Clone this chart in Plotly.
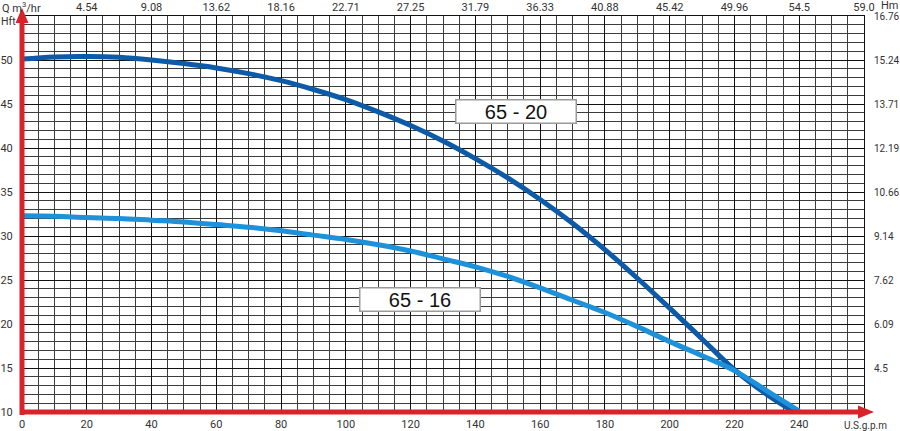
import plotly.graph_objects as go

# ---- data ----
gpm_ticks = [0, 20, 40, 60, 80, 100, 120, 140, 160, 180, 200, 220, 240]
ft_ticks = [10, 15, 20, 25, 30, 35, 40, 45, 50]
m3hr_tick_pos = [20, 40, 60, 80, 100, 120, 140, 160, 180, 200, 220, 240, 260]
m3hr_labels = ["4.54", "9.08", "13.62", "18.16", "22.71", "27.25", "31.79",
               "36.33", "40.88", "45.42", "49.96", "54.5", "59.0"]
hm_tick_pos = [55, 50, 45, 40, 35, 30, 25, 20, 15]
hm_labels = ["16.76", "15.24", "13.71", "12.19", "10.66", "9.14", "7.62", "6.09", "4.5"]

flow_6520 = [0, 10, 20, 30, 40, 50, 60, 70, 80, 90, 100, 110, 120, 130, 140,
             150, 160, 170, 180, 190, 200, 210, 220, 230, 238]
head_6520 = [50.1, 50.35, 50.4, 50.3, 50.0, 49.6, 49.1, 48.45, 47.65, 46.65,
             45.5, 44.1, 42.55, 40.8, 38.8, 36.6, 34.15, 31.45, 28.45, 25.2,
             21.8, 18.3, 14.8, 12.0, 10.1]

flow_6516 = [0, 10, 20, 30, 40, 50, 60, 70, 80, 90, 100, 110, 120, 130, 140,
             150, 160, 170, 180, 190, 200, 210, 220, 230, 240]
head_6516 = [32.3, 32.25, 32.1, 32.0, 31.8, 31.6, 31.3, 31.0, 30.6, 30.1,
             29.6, 29.0, 28.3, 27.4, 26.5, 25.4, 24.1, 22.7, 21.3, 19.7,
             18.0, 16.4, 14.7, 12.4, 10.1]

series_labels = ["65 - 20", "65 - 16"]
label_pos = [(152.5, 44.1), (122.8, 22.8)]

# ---- figure ----
W, H = 900, 431
ML, MR, MT, MB = 22, 36, 16, 19
PW, PH = W - ML - MR, H - MT - MB

DARK = "#0d5aa8"
LIGHT = "#1d91da"
RED = "#d9232a"
TXT = "#333333"
FONT = "Roboto, Arial, sans-serif"
LFONT = "Liberation Sans, Arial, sans-serif"
GRID_MAJ = "#111111"
GRID_MIN = "#3c3c3c"

fig = go.Figure()
fig.add_trace(go.Scatter(x=flow_6520, y=head_6520, mode="lines",
                         line=dict(color=DARK, width=5, shape="spline"),
                         hoverinfo="skip", showlegend=False))
fig.add_trace(go.Scatter(x=flow_6516, y=head_6516, mode="lines",
                         line=dict(color=LIGHT, width=5, shape="spline"),
                         hoverinfo="skip", showlegend=False))
# invisible trace to bind secondary axes
fig.add_trace(go.Scatter(x=[None], y=[None], xaxis="x2", yaxis="y2",
                         mode="markers", showlegend=False, hoverinfo="skip"))

tickfont = dict(family=FONT, size=11, color=TXT)
rtickfont = dict(family=FONT, size=10, color=TXT)

fig.update_layout(
    width=W, height=H,
    margin=dict(l=ML, r=MR, t=MT, b=MB, pad=0),
    paper_bgcolor="white", plot_bgcolor="white",
    font=dict(family=FONT, color=TXT),
    showlegend=False,
    xaxis=dict(range=[0, 260], tickmode="array", tickvals=gpm_ticks,
               ticktext=[str(v) for v in gpm_ticks],
               showgrid=True, gridcolor=GRID_MAJ, gridwidth=1,
               minor=dict(tickmode="linear", tick0=0, dtick=5, showgrid=True,
                          gridcolor=GRID_MIN, gridwidth=1, ticks=""),
               zeroline=False, showline=True, mirror=True, linecolor=GRID_MAJ,
               linewidth=1, ticks="", tickfont=tickfont, ticklabelstandoff=2,
               automargin=False, fixedrange=True),
    yaxis=dict(range=[10, 55], tickmode="array", tickvals=ft_ticks,
               ticktext=[str(v) for v in ft_ticks],
               showgrid=True, gridcolor=GRID_MAJ, gridwidth=1,
               minor=dict(tickmode="linear", tick0=10, dtick=1, showgrid=True,
                          gridcolor=GRID_MIN, gridwidth=1, ticks=""),
               zeroline=False, showline=True, mirror=True, linecolor=GRID_MAJ,
               linewidth=1, ticks="", tickfont=tickfont, ticklabelstandoff=6,
               automargin=False, fixedrange=True),
    xaxis2=dict(range=[0, 260], overlaying="x", side="top", anchor="y",
                tickmode="array", tickvals=m3hr_tick_pos, ticktext=m3hr_labels,
                showgrid=False, zeroline=False, showline=False, ticks="",
                tickfont=tickfont, ticklabelstandoff=2, automargin=False,
                fixedrange=True),
    yaxis2=dict(range=[10, 55], overlaying="y", side="right", anchor="x",
                tickmode="array", tickvals=hm_tick_pos, ticktext=hm_labels,
                showgrid=False, zeroline=False, showline=False, ticks="",
                tickfont=rtickfont, ticklabelstandoff=9, automargin=False,
                fixedrange=True),
)

# series labels
for txt, (lx, ly) in zip(series_labels, label_pos):
    fig.add_annotation(x=lx, y=ly, xref="x", yref="y", text=txt,
                       showarrow=False, font=dict(family=LFONT, size=20, color="#111"),
                       bgcolor="white", bordercolor="#9a9a9a", borderwidth=1.5,
                       borderpad=1, width=117, height=20)

def px_x(p):
    return (p - ML) / PW

def px_y(p):
    return (H - MB - p) / PH

# axis titles
fig.add_annotation(x=px_x(0), y=px_y(7.5), xref="paper", yref="paper",
                   text="Q m<sup>3</sup>/hr", showarrow=False, xanchor="left",
                   yanchor="middle", font=dict(family=FONT, size=11, color=TXT))
fig.add_annotation(x=px_x(-1), y=px_y(21), xref="paper", yref="paper",
                   text="Hft", showarrow=False, xanchor="left",
                   yanchor="middle", font=dict(family=FONT, size=10.5, color=TXT))
fig.add_annotation(x=px_x(879), y=px_y(5), xref="paper", yref="paper",
                   text="Hm", showarrow=False, xanchor="left",
                   yanchor="middle", font=dict(family=FONT, size=11, color=TXT))
fig.add_annotation(x=px_x(842), y=px_y(425), xref="paper", yref="paper",
                   text="U.S.g.p.m", showarrow=False, xanchor="left",
                   yanchor="middle", font=dict(family=FONT, size=10, color=TXT))

# red arrows (axes)
fig.add_shape(type="line", xref="paper", yref="paper",
              x0=px_x(22), x1=px_x(22), y0=px_y(415), y1=px_y(20),
              line=dict(color=RED, width=5))
fig.add_shape(type="path", xref="paper", yref="paper",
              path=f"M {px_x(15.5)} {px_y(23)} L {px_x(28.5)} {px_y(23)} L {px_x(22)} {px_y(8)} Z",
              fillcolor=RED, line=dict(color=RED, width=0))
fig.add_shape(type="line", xref="paper", yref="paper",
              x0=px_x(20), x1=px_x(861), y0=px_y(412), y1=px_y(412),
              line=dict(color=RED, width=5))
fig.add_shape(type="path", xref="paper", yref="paper",
              path=f"M {px_x(858)} {px_y(405.5)} L {px_x(858)} {px_y(418.5)} L {px_x(874)} {px_y(412)} Z",
              fillcolor=RED, line=dict(color=RED, width=0))

fig.write_html("out.html", config={"displayModeBar": False, "staticPlot": True},
               post_script="document.body.style.margin='0';document.body.style.overflow='hidden';")
